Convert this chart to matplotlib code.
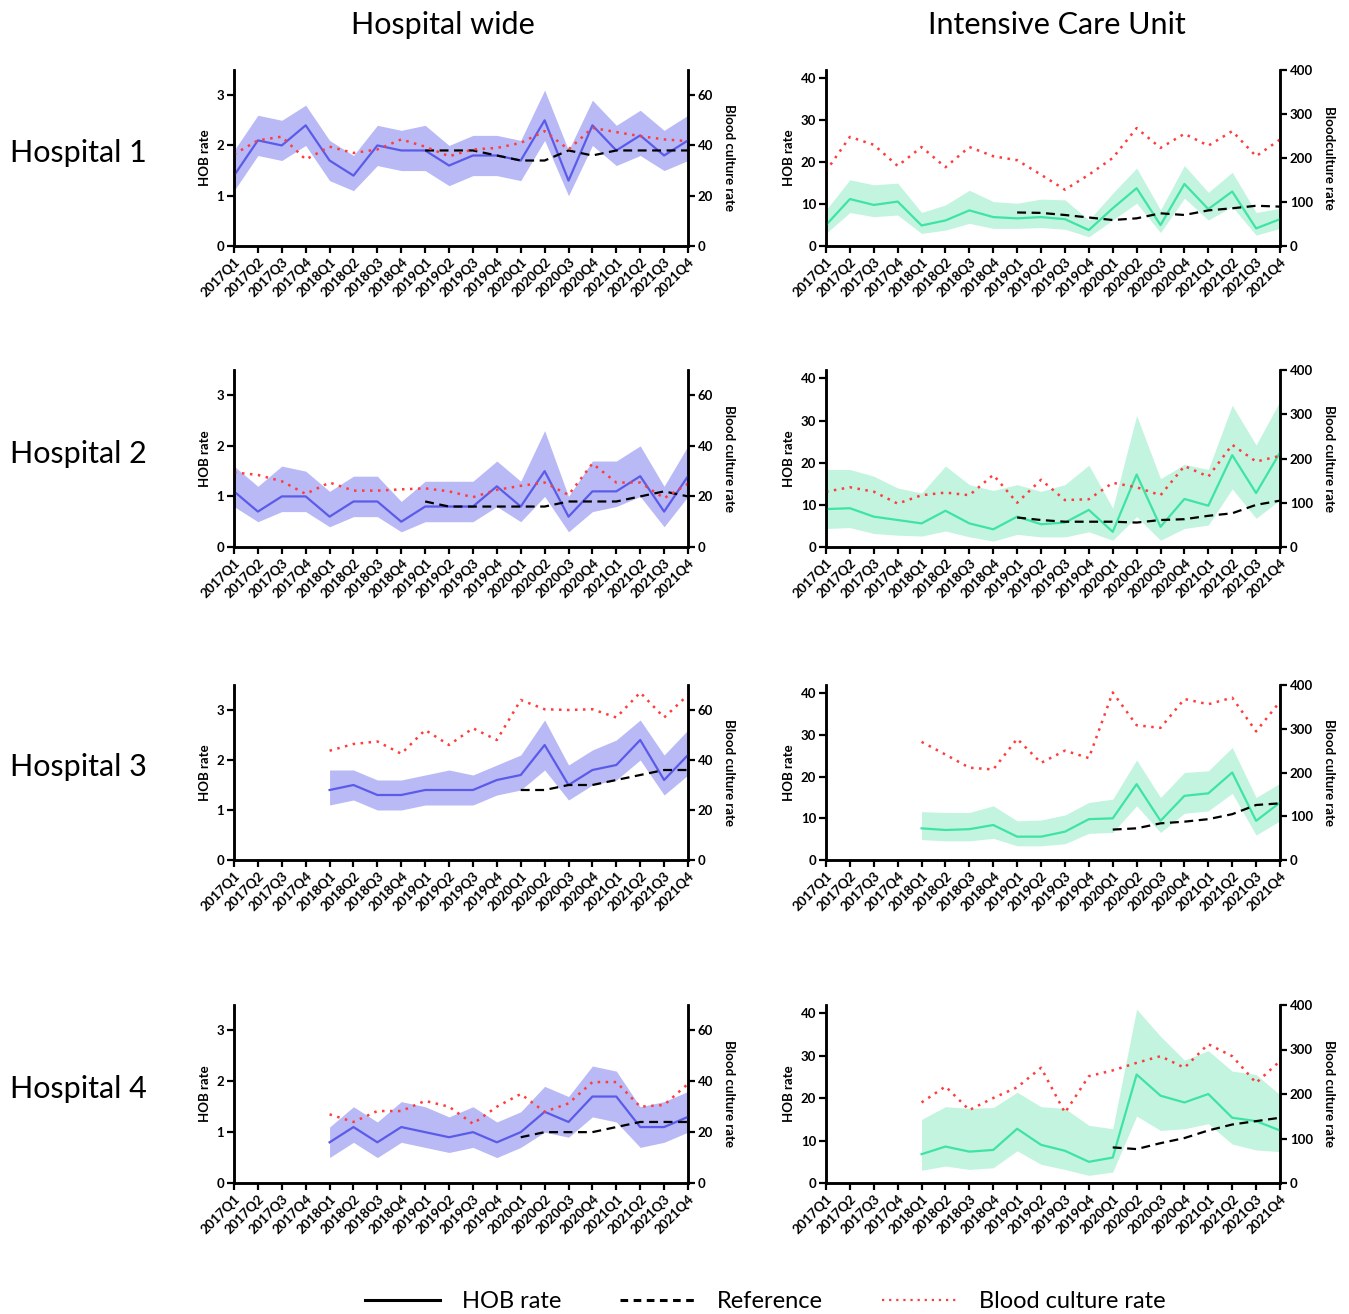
import numpy as np
import matplotlib
matplotlib.use("Agg")
import matplotlib.pyplot as plt
from matplotlib.lines import Line2D

plt.rcParams['font.family'] = ['Lato', 'DejaVu Sans']

quarters = ["2017Q1", "2017Q2", "2017Q3", "2017Q4", "2018Q1", "2018Q2", "2018Q3", "2018Q4",
            "2019Q1", "2019Q2", "2019Q3", "2019Q4", "2020Q1", "2020Q2", "2020Q3", "2020Q4",
            "2021Q1", "2021Q2", "2021Q3", "2021Q4"]
N = None

# ---------------- Hospital 1 ----------------
h1_hw_hob = [1.4, 2.1, 2.0, 2.4, 1.7, 1.4, 2.0, 1.9, 1.9, 1.6, 1.8, 1.8, 1.7, 2.5, 1.3, 2.4, 1.9, 2.2, 1.8, 2.1]
h1_hw_hi  = [1.9, 2.6, 2.5, 2.8, 2.1, 1.8, 2.4, 2.3, 2.4, 2.0, 2.2, 2.2, 2.1, 3.1, 1.9, 2.9, 2.4, 2.7, 2.3, 2.6]
h1_hw_lo  = [1.1, 1.8, 1.7, 2.0, 1.3, 1.1, 1.6, 1.5, 1.5, 1.2, 1.4, 1.4, 1.3, 2.1, 1.0, 2.0, 1.6, 1.8, 1.5, 1.7]
h1_hw_bc  = [36.5, 42, 43.5, 34.4, 39.5, 37, 38.4, 42.4, 39.5, 35.7, 38.4, 39, 41, 45.7, 38.4, 47, 45.3, 43.7, 42.4, 41.7]
h1_hw_ref = [N, N, N, N, N, N, N, N, 1.9, 1.9, 1.9, 1.8, 1.7, 1.7, 1.9, 1.8, 1.9, 1.9, 1.9, 1.9]

h1_icu_hob = [5.0, 11.2, 9.8, 10.6, 4.9, 6.1, 8.5, 6.9, 6.6, 6.9, 6.4, 3.8, 9.0, 13.8, 5.0, 14.8, 8.8, 13.0, 4.2, 6.4]
h1_icu_hi  = [8.6, 15.8, 14.6, 15.0, 8.0, 9.8, 13.3, 10.6, 10.2, 11.2, 11.0, 6.2, 12.6, 18.6, 8.6, 19.2, 12.8, 17.6, 8.0, 9.0]
h1_icu_lo  = [3.0, 8.0, 7.0, 7.4, 3.0, 3.8, 5.4, 4.2, 4.2, 4.4, 4.0, 2.2, 6.2, 10.2, 3.2, 11.4, 6.2, 9.4, 2.6, 4.2]
h1_icu_bc  = [170, 248, 230, 182, 225, 179, 225, 204, 195, 162, 128, 162, 200, 268, 223, 255, 228, 261, 204, 242]
h1_icu_ref = [N, N, N, N, N, N, N, N, 8.0, 7.9, 7.4, 6.8, 6.2, 6.6, 7.8, 7.4, 8.5, 9.0, 9.6, 9.4]

# ---------------- Hospital 2 ----------------
h2_hw_hob = [1.1, 0.7, 1.0, 1.0, 0.6, 0.9, 0.9, 0.5, 0.8, 0.8, 0.8, 1.2, 0.8, 1.5, 0.6, 1.1, 1.1, 1.4, 0.7, 1.4]
h2_hw_hi  = [1.6, 1.2, 1.6, 1.5, 1.1, 1.4, 1.4, 0.9, 1.3, 1.3, 1.3, 1.7, 1.3, 2.3, 1.0, 1.7, 1.7, 2.0, 1.2, 2.0]
h2_hw_lo  = [0.8, 0.5, 0.7, 0.7, 0.4, 0.6, 0.6, 0.3, 0.5, 0.5, 0.5, 0.8, 0.5, 1.0, 0.3, 0.7, 0.8, 1.0, 0.4, 1.0]
h2_hw_bc  = [29.5, 28.5, 26, 21, 25.5, 22.3, 22.3, 22.8, 23.2, 22, 19.7, 22.6, 24.2, 25.5, 20.6, 33, 25.5, 25.5, 19.3, 25]
h2_hw_ref = [N, N, N, N, N, N, N, N, 0.9, 0.8, 0.8, 0.8, 0.8, 0.8, 0.9, 0.9, 0.9, 1.0, 1.1, 1.0]

h2_icu_hob = [9.0, 9.2, 7.2, 6.4, 5.6, 8.6, 5.6, 4.2, 7.2, 5.4, 5.8, 8.8, 3.6, 17.2, 4.8, 11.4, 9.8, 21.8, 12.8, 22.4]
h2_icu_hi  = [18.4, 18.4, 16.8, 14.0, 12.8, 19.2, 14.8, 13.4, 14.8, 13.2, 14.8, 19.4, 9.2, 31.2, 16.2, 19.6, 18.4, 33.6, 24.2, 34.6]
h2_icu_lo  = [4.4, 4.6, 3.2, 2.8, 2.6, 3.8, 2.4, 1.4, 3.0, 2.4, 2.4, 3.6, 1.6, 7.2, 1.6, 4.4, 5.2, 13.8, 6.8, 11.2]
h2_icu_bc  = [125, 135, 125, 98, 117, 123, 117, 163, 100, 152, 106, 108, 145, 135, 117, 183, 159, 231, 193, 206]
h2_icu_ref = [N, N, N, N, N, N, N, N, 7.0, 6.4, 6.0, 6.0, 6.0, 5.8, 6.4, 6.6, 7.4, 8.0, 10.0, 11.0]

# ---------------- Hospital 3 ----------------
h3_hw_hob = [N, N, N, N, 1.4, 1.5, 1.3, 1.3, 1.4, 1.4, 1.4, 1.6, 1.7, 2.3, 1.5, 1.8, 1.9, 2.4, 1.6, 2.1]
h3_hw_hi  = [N, N, N, N, 1.8, 1.8, 1.6, 1.6, 1.7, 1.8, 1.7, 1.9, 2.1, 2.8, 1.9, 2.2, 2.4, 2.8, 2.1, 2.6]
h3_hw_lo  = [N, N, N, N, 1.1, 1.2, 1.0, 1.0, 1.1, 1.1, 1.1, 1.3, 1.4, 1.8, 1.2, 1.5, 1.6, 2.0, 1.3, 1.7]
h3_hw_bc  = [N, N, N, N, 43.7, 46.4, 47.4, 42.5, 52, 46, 52.7, 48, 64, 60.3, 60, 60.3, 57, 67, 57, 66]
h3_hw_ref = [N, N, N, N, N, N, N, N, N, N, N, N, 1.4, 1.4, 1.5, 1.5, 1.6, 1.7, 1.8, 1.8]

h3_icu_hob = [N, N, N, N, 7.6, 7.2, 7.4, 8.4, 5.6, 5.6, 6.8, 9.8, 10.0, 18.2, 9.4, 15.4, 16.0, 21.0, 9.4, 13.8]
h3_icu_hi  = [N, N, N, N, 11.6, 11.4, 11.4, 13.0, 9.4, 9.6, 10.8, 13.8, 14.6, 24.0, 15.0, 21.0, 21.4, 27.0, 15.0, 18.4]
h3_icu_lo  = [N, N, N, N, 4.9, 4.6, 4.6, 5.2, 3.4, 3.4, 3.9, 6.4, 6.6, 13.0, 6.6, 11.2, 11.8, 16.0, 6.0, 9.4]
h3_icu_bc  = [N, N, N, N, 270, 241, 211, 207, 277, 222, 250, 233, 383, 308, 302, 368, 356, 371, 294, 362]
h3_icu_ref = [N, N, N, N, N, N, N, N, N, N, N, N, 7.3, 7.6, 8.8, 9.2, 9.8, 11.0, 13.2, 13.6]

# ---------------- Hospital 4 ----------------
h4_hw_hob = [N, N, N, N, 0.8, 1.1, 0.8, 1.1, 1.0, 0.9, 1.0, 0.8, 1.0, 1.4, 1.2, 1.7, 1.7, 1.1, 1.1, 1.3]
h4_hw_hi  = [N, N, N, N, 1.1, 1.5, 1.2, 1.6, 1.5, 1.3, 1.5, 1.2, 1.4, 1.9, 1.7, 2.3, 2.2, 1.5, 1.6, 1.8]
h4_hw_lo  = [N, N, N, N, 0.5, 0.8, 0.5, 0.8, 0.7, 0.6, 0.7, 0.5, 0.7, 1.0, 0.9, 1.3, 1.2, 0.7, 0.8, 1.0]
h4_hw_bc  = [N, N, N, N, 27, 24, 28.3, 28.3, 32.3, 30, 23.3, 30, 35, 28, 31.3, 39.7, 39.7, 30, 30.7, 39]
h4_hw_ref = [N, N, N, N, N, N, N, N, N, N, N, N, 0.9, 1.0, 1.0, 1.0, 1.1, 1.2, 1.2, 1.2]

h4_icu_hob = [N, N, N, N, 6.8, 8.6, 7.4, 7.8, 12.8, 9.0, 7.6, 5.0, 6.0, 25.6, 20.6, 19.0, 21.0, 15.4, 14.6, 12.4]
h4_icu_hi  = [N, N, N, N, 15.0, 18.0, 17.6, 17.8, 21.4, 18.0, 17.6, 13.6, 12.8, 41.0, 34.6, 29.0, 31.2, 26.4, 25.6, 20.8]
h4_icu_lo  = [N, N, N, N, 3.0, 4.0, 3.2, 3.6, 7.6, 4.4, 3.2, 1.8, 2.6, 15.8, 12.4, 12.8, 14.0, 9.2, 7.8, 7.4]
h4_icu_bc  = [N, N, N, N, 181, 217, 164, 191, 215, 259, 158, 240, 253, 270, 285, 259, 312, 285, 225, 274]
h4_icu_ref = [N, N, N, N, N, N, N, N, N, N, N, N, 8.4, 8.0, 9.4, 10.6, 12.4, 13.8, 14.6, 15.4]

col_titles = ["Hospital wide", "Intensive Care Unit"]
row_titles = ["Hospital 1", "Hospital 2", "Hospital 3", "Hospital 4"]

panels = [
    [(h1_hw_hob, h1_hw_lo, h1_hw_hi, h1_hw_bc, h1_hw_ref),
     (h1_icu_hob, h1_icu_lo, h1_icu_hi, h1_icu_bc, h1_icu_ref)],
    [(h2_hw_hob, h2_hw_lo, h2_hw_hi, h2_hw_bc, h2_hw_ref),
     (h2_icu_hob, h2_icu_lo, h2_icu_hi, h2_icu_bc, h2_icu_ref)],
    [(h3_hw_hob, h3_hw_lo, h3_hw_hi, h3_hw_bc, h3_hw_ref),
     (h3_icu_hob, h3_icu_lo, h3_icu_hi, h3_icu_bc, h3_icu_ref)],
    [(h4_hw_hob, h4_hw_lo, h4_hw_hi, h4_hw_bc, h4_hw_ref),
     (h4_icu_hob, h4_icu_lo, h4_icu_hi, h4_icu_bc, h4_icu_ref)],
]

W, H = 1349, 1314
fig = plt.figure(figsize=(W / 100, H / 100), dpi=100)

col_x = [234, 826]
col_w = 454
col_title_x = [443, 1057]
rows_px = [(70, 246), (370, 547), (685, 860), (1005, 1183)]

hw_line, hw_fill = "#5b5bea", "#b9b9f6"
icu_line, icu_fill = "#3ee4a4", "#c2f4e0"
bc_color = "#ff3c3c"

def arr(v):
    return np.array([np.nan if x is None else x for x in v], dtype=float)

x = np.arange(len(quarters))
tick_fs = 9.5

for r, (top, bot) in enumerate(rows_px):
    for c in range(2):
        hob, lo, hi, bc, ref = [arr(v) for v in panels[r][c]]
        ax = fig.add_axes([col_x[c] / W, 1 - bot / H, col_w / W, (bot - top) / H])
        ax2 = ax.twinx()
        lc, fc = (hw_line, hw_fill) if c == 0 else (icu_line, icu_fill)
        ax.fill_between(x, lo, hi, color=fc, linewidth=0, zorder=1)
        ax.plot(x, hob, color=lc, lw=1.6, zorder=3)
        ax.plot(x, ref, color="black", lw=1.6, ls=(0, (4, 2.5)), zorder=4)
        ax2.plot(x, bc, color=bc_color, lw=1.8, ls=(0, (1, 2.2)), zorder=2)
        ax.set_xlim(0, 19)
        if c == 0:
            ax.set_ylim(0, 3.5)
            ax.set_yticks([0, 1, 2, 3])
            ax2.set_ylim(0, 70)
            ax2.set_yticks([0, 20, 40, 60])
        else:
            ax.set_ylim(0, 42)
            ax.set_yticks([0, 10, 20, 30, 40])
            ax2.set_ylim(0, 400)
            ax2.set_yticks([0, 100, 200, 300, 400])
        ax.set_xticks(x)
        ax.set_xticklabels(quarters, rotation=45, ha="right", rotation_mode="anchor",
                           fontsize=tick_fs, fontweight="bold")
        for a in (ax, ax2):
            a.spines["top"].set_visible(False)
            for s in ("left", "right", "bottom"):
                a.spines[s].set_linewidth(1.8)
            a.tick_params(axis="both", which="major", length=5, width=1.6,
                          labelsize=tick_fs, pad=2)
            for lab in a.get_yticklabels():
                lab.set_fontweight("bold")
        ax.set_ylabel("HOB rate", fontsize=tick_fs, fontweight="bold", labelpad=4)
        rlab = "Bloodculture rate" if (r == 0 and c == 1) else "Blood culture rate"
        ax2.set_ylabel(rlab, fontsize=tick_fs, fontweight="bold", rotation=270, labelpad=16)
        if c == 0:
            fig.text(10 / W, 1 - ((top + bot) / 2 - 5) / H, row_titles[r],
                     fontsize=22, ha="left", va="center")
        if r == 0:
            fig.text(col_title_x[c] / W, 1 - 25 / H, col_titles[c],
                     fontsize=22, ha="center", va="center")

handles = [Line2D([], [], color="black", lw=2.2),
           Line2D([], [], color="black", lw=2.2, ls=(0, (2.5, 1.8))),
           Line2D([], [], color=bc_color, lw=1.6, ls=(0, (1, 2.2)))]
fig.legend(handles, ["HOB rate", "Reference", "Blood culture rate"], loc="center",
           bbox_to_anchor=(765 / W, 1 - 1302 / H), ncol=3, frameon=False, fontsize=17,
           handlelength=3.2, columnspacing=2.5, handletextpad=0.9)

fig.savefig("out.png", dpi=100)
